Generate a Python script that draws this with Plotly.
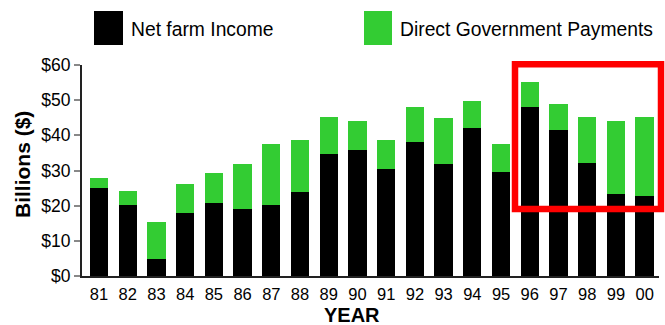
import plotly.graph_objects as go

years = ["81", "82", "83", "84", "85", "86", "87", "88", "89", "90",
         "91", "92", "93", "94", "95", "96", "97", "98", "99", "00"]
net_farm_income = [25.1, 20.3, 4.8, 17.8, 20.7, 19.0, 20.3, 24.0, 34.8, 35.8,
                   30.5, 38.0, 31.9, 42.0, 29.7, 48.2, 41.6, 32.0, 23.3, 22.8]
direct_gov_payments = [2.8, 4.0, 10.5, 8.3, 8.6, 12.9, 17.3, 14.8, 10.4, 8.4,
                       8.3, 10.2, 13.1, 7.9, 7.9, 7.1, 7.3, 13.2, 20.9, 22.4]
series_names = ["Net farm Income", "Direct Government Payments"]
series_colors = ["#000000", "#33CC33"]
y_tickvals = [0, 10, 20, 30, 40, 50, 60]
y_ticktext = ["$0", "$10", "$20", "$30", "$40", "$50", "$60"]

FONT = "Liberation Sans, Arial, sans-serif"

fig = go.Figure()
fig.add_trace(go.Bar(x=years, y=net_farm_income, name=series_names[0],
                     marker=dict(color=series_colors[0], line=dict(width=0))))
fig.add_trace(go.Bar(x=years, y=direct_gov_payments, name=series_names[1],
                     marker=dict(color=series_colors[1], line=dict(width=0))))

L, R, T, B = 82, 6, 65, 49
W, H = 665, 325
pw = W - L - R
ph = H - T - B

def px_x(p):
    return (p - L) / pw

def px_y(p):
    return (H - B - p) / ph

fig.update_layout(
    width=W, height=H,
    margin=dict(l=L, r=R, t=T, b=B),
    barmode="stack",
    bargap=0.363,
    showlegend=False,
    plot_bgcolor="white",
    paper_bgcolor="white",
    font=dict(family=FONT, color="black"),
    xaxis=dict(
        type="category",
        range=[-0.592, 19.5],
        showline=True, linecolor="#222222", linewidth=2,
        ticks="", showgrid=False,
        ticklabelstandoff=2,
        tickfont=dict(size=16.5, family=FONT, color="black"),
    ),
    yaxis=dict(
        range=[0, 60],
        tickvals=y_tickvals, ticktext=y_ticktext,
        showline=True, linecolor="#222222", linewidth=2,
        ticks="outside", ticklen=6, tickwidth=1.5, tickcolor="#888888",
        showgrid=False, zeroline=False,
        tickfont=dict(size=17.5, family=FONT, color="black"),
    ),
)

# axis titles
fig.add_annotation(text="<b>YEAR</b>", xref="paper", yref="paper",
                   x=px_x(352), y=px_y(315), xanchor="center", yanchor="middle",
                   showarrow=False, font=dict(size=20, family=FONT, color="black"))
fig.add_annotation(text="<b>Billions ($)</b>", xref="paper", yref="paper",
                   x=px_x(22), y=px_y(165), xanchor="center", yanchor="middle",
                   textangle=-90, showarrow=False,
                   font=dict(size=21, family=FONT, color="black"))

# legend (drawn manually)
legend_boxes = [(94, 123), (364, 392)]
legend_text_x = [129, 398]
for i in range(2):
    x0, x1 = legend_boxes[i]
    fig.add_shape(type="rect", xref="paper", yref="paper",
                  x0=px_x(x0), x1=px_x(x1), y0=px_y(45), y1=px_y(11),
                  fillcolor=series_colors[i], line=dict(width=0))
    fig.add_annotation(text=series_names[i], xref="paper", yref="paper",
                       x=px_x(legend_text_x[i]), y=px_y(30),
                       xanchor="left", yanchor="middle", showarrow=False,
                       font=dict(size=19.3, family=FONT, color="black"))

# red highlight box
fig.add_shape(type="rect", xref="paper", yref="paper",
              x0=px_x(515), x1=px_x(661), y0=px_y(209), y1=px_y(64.2),
              line=dict(color="#FF0000", width=6.5), fillcolor="rgba(0,0,0,0)")

fig.write_html("out.html")
